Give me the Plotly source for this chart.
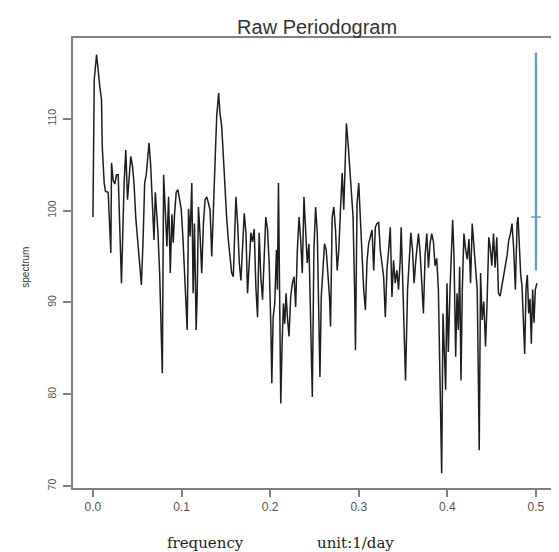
import plotly.graph_objects as go

# ---- data ----
frequency = [
    0.0000, 0.0005, 0.0015, 0.0041, 0.0060, 0.0079, 0.0097, 0.0105, 0.0127, 0.0142,
    0.0172, 0.0191, 0.0202, 0.0210, 0.0228, 0.0247, 0.0266, 0.0285, 0.0303, 0.0322,
    0.0352, 0.0371, 0.0390, 0.0404, 0.0427, 0.0446, 0.0464, 0.0483, 0.0502, 0.0528,
    0.0547, 0.0566, 0.0584, 0.0603, 0.0622, 0.0633, 0.0652, 0.0670, 0.0689, 0.0704,
    0.0719, 0.0734, 0.0753, 0.0772, 0.0783, 0.0798, 0.0817, 0.0835, 0.0854, 0.0873,
    0.0891, 0.0906, 0.0921, 0.0940, 0.0959, 0.0978, 0.0996, 0.1015, 0.1034, 0.1049,
    0.1064, 0.1079, 0.1097, 0.1116, 0.1131,
    0.1146, 0.1165, 0.1176, 0.1191, 0.1210, 0.1228, 0.1247, 0.1266, 0.1285, 0.1303,
    0.1322, 0.1341, 0.1360, 0.1378, 0.1397, 0.1408, 0.1419, 0.1434, 0.1453, 0.1472,
    0.1491, 0.1509, 0.1528, 0.1547, 0.1566, 0.1584, 0.1596, 0.1614, 0.1633, 0.1652,
    0.1670, 0.1689, 0.1708, 0.1727, 0.1745, 0.1764, 0.1783, 0.1801, 0.1820, 0.1839,
    0.1858, 0.1876, 0.1895, 0.1914, 0.1933, 0.1951, 0.1970, 0.1989, 0.2008, 0.2019,
    0.2034, 0.2052, 0.2071, 0.2082, 0.2094, 0.2105, 0.2120, 0.2135, 0.2150, 0.2165,
    0.2180, 0.2195, 0.2213, 0.2232, 0.2251, 0.2270, 0.2288, 0.2307, 0.2326, 0.2345,
    0.2363,
    0.2382, 0.2401, 0.2419, 0.2438, 0.2457, 0.2476, 0.2494, 0.2513, 0.2532, 0.2551,
    0.2562, 0.2577, 0.2596, 0.2614, 0.2633, 0.2652, 0.2670, 0.2682, 0.2700, 0.2719,
    0.2738, 0.2757, 0.2775, 0.2794, 0.2813, 0.2831, 0.2850, 0.2861, 0.2880, 0.2899,
    0.2918, 0.2936, 0.2955, 0.2963, 0.2981, 0.3000, 0.3019, 0.3037, 0.3056, 0.3075,
    0.3094, 0.3112, 0.3131, 0.3150, 0.3169, 0.3187, 0.3206, 0.3225, 0.3243, 0.3262,
    0.3281, 0.3300, 0.3318, 0.3337, 0.3356, 0.3375, 0.3393, 0.3412, 0.3431, 0.3449,
    0.3468, 0.3479, 0.3494, 0.3513, 0.3528, 0.3551, 0.3569, 0.3588, 0.3607, 0.3625,
    0.3644,
    0.3674, 0.3693, 0.3712, 0.3730, 0.3749, 0.3768, 0.3787, 0.3805, 0.3824, 0.3843,
    0.3861, 0.3880, 0.3899, 0.3918, 0.3929, 0.3936, 0.3951, 0.3966, 0.3981, 0.3996,
    0.4011, 0.4030, 0.4049, 0.4060, 0.4075, 0.4094, 0.4109, 0.4124, 0.4139, 0.4154,
    0.4169, 0.4187, 0.4206, 0.4225, 0.4244, 0.4262, 0.4281, 0.4300, 0.4318, 0.4337,
    0.4348, 0.4360, 0.4375, 0.4393, 0.4412, 0.4431, 0.4449, 0.4468, 0.4483, 0.4502,
    0.4521, 0.4539, 0.4558, 0.4577, 0.4596, 0.4614, 0.4633, 0.4655, 0.4674, 0.4693,
    0.4712, 0.4730, 0.4749, 0.4768, 0.4787, 0.4798, 0.4813, 0.4828, 0.4843, 0.4861,
    0.4873, 0.4888, 0.4903, 0.4918, 0.4933, 0.4948, 0.4963, 0.4978, 0.4993, 0.5011,
]

spectrum = [
    99.3, 105.3, 114.3, 117.0, 115.0, 113.4, 112.1, 107.0, 103.0, 102.1,
    102.0, 98.7, 95.4, 105.2, 103.3, 102.9, 103.9, 103.9, 98.3, 92.1,
    103.0, 106.6, 101.2, 103.3, 105.9, 104.9, 102.9, 99.3, 96.8, 93.9,
    91.9, 96.8, 103.0, 104.0, 106.3, 107.4, 104.9, 100.4, 96.8, 102.0,
    99.6, 97.6, 93.2, 87.0, 82.3, 103.9, 99.0, 96.1, 101.5, 93.2,
    99.6, 96.5, 99.6, 102.0, 102.3, 101.0, 100.2, 97.2, 93.2, 89.2,
    87.0, 100.2, 97.2, 103.0, 91.0,
    98.6, 87.0, 90.6, 100.4, 97.2, 93.2, 98.6, 101.2, 101.5, 100.9,
    100.1, 95.0, 99.3, 105.2, 110.3, 112.1, 112.8, 110.6, 109.2, 105.9,
    101.9, 99.3, 96.8, 95.0, 93.2, 92.8, 97.6, 101.5, 98.6, 94.3,
    92.4, 96.8, 99.7, 97.6, 91.0, 94.3, 97.6, 96.6, 98.0, 91.7,
    88.4, 97.6, 92.8, 90.3, 96.3, 99.3, 98.0, 94.3, 87.4, 81.2,
    88.4, 89.9, 95.7, 91.4, 103.0, 90.6, 79.0, 85.5, 89.9, 87.7,
    91.0, 88.4, 86.3, 90.6, 92.1, 92.8, 89.5, 95.7, 99.3, 96.8,
    93.2,
    101.5, 97.9, 94.3, 96.4, 88.4, 79.7, 95.7, 100.4, 97.6, 86.3,
    81.9, 90.6, 93.9, 96.4, 95.7, 93.5, 90.6, 87.4, 99.3, 100.4,
    97.9, 93.5, 95.7, 100.1, 104.1, 100.1, 105.9, 109.5, 107.3, 104.4,
    102.6, 99.3, 90.6, 84.8, 100.8, 103.0, 99.0, 94.6, 91.4, 89.2,
    94.6, 96.4, 97.1, 97.9, 93.5, 98.2, 98.6, 98.7, 95.7, 94.3,
    92.8, 88.4, 93.5, 95.7, 98.2, 90.6, 94.6, 92.1, 93.5, 91.4,
    94.6, 98.2, 92.8, 87.4, 81.5, 91.4, 93.9, 97.6, 95.7, 92.1,
    94.6,
    97.5, 95.4, 91.4, 88.8, 95.1, 97.5, 93.8, 96.4, 97.5, 96.6,
    94.0, 94.8, 91.4, 80.5, 77.2, 71.4, 88.8, 84.1, 80.5, 92.1,
    84.6, 91.4, 97.9, 99.0, 95.1, 84.1, 91.0, 87.0, 93.9, 81.5,
    91.4, 97.5, 95.8, 94.7, 96.9, 92.1, 98.6, 95.8, 93.0, 91.4,
    83.4, 73.9, 93.2, 88.1, 90.1, 85.2, 90.1, 97.1, 96.1, 94.0,
    97.5, 93.8, 97.1, 91.0, 90.7, 91.8, 93.0, 94.3, 95.1, 96.8,
    97.5, 98.6, 95.8, 91.4, 98.6, 99.3, 95.5, 93.0, 91.8, 87.0,
    84.4, 91.4, 93.0, 88.8, 90.4, 85.5, 91.4, 87.8, 91.4, 92.1,
]

# confidence bar (upper, centre, lower) at frequency 0.5
ci_frequency = [0.5]
ci_centre = [99.3]
ci_upper = [117.2]
ci_lower = [93.5]

x_ticks = [0.0, 0.1, 0.2, 0.3, 0.4, 0.5]
x_tick_text = ["0.0", "0.1", "0.2", "0.3", "0.4", "0.5"]
y_ticks = [70, 80, 90, 100, 110]
y_tick_text = ["70", "80", "90", "100", "110"]

fig = go.Figure()

fig.add_trace(go.Scatter(
    x=frequency, y=spectrum, mode="lines",
    line=dict(color="#1e1e1e", width=1.5),
    showlegend=False, hoverinfo="x+y",
))

fig.add_trace(go.Scatter(
    x=ci_frequency, y=ci_centre, mode="markers",
    marker=dict(symbol="line-ew", size=7, line=dict(color="#5b9bd5", width=1.5), color="#5b9bd5"),
    error_y=dict(type="data", symmetric=False,
                 array=[u - c for u, c in zip(ci_upper, ci_centre)],
                 arrayminus=[c - l for c, l in zip(ci_centre, ci_lower)],
                 color="#5b9bd5", thickness=2.2, width=0),
    showlegend=False, hoverinfo="skip",
))

axis_col = "#808080"
# the page body adds an 8px offset, so the figure is 8px smaller and margins shifted
fig.update_layout(
    width=551, height=544,
    margin=dict(l=65, r=6, t=30, b=64),
    paper_bgcolor="white", plot_bgcolor="white",
    font=dict(family="Liberation Sans, Arial, sans-serif", color="#444"),
    title=dict(text="Raw Periodogram", x=0.561, xanchor="center", y=0.965, yanchor="middle",
               font=dict(size=20, color="#333", family="Liberation Sans, Arial, sans-serif")),
    xaxis=dict(range=[-0.0225, 0.517], tickvals=x_ticks, ticktext=x_tick_text,
               showgrid=False, zeroline=False, showline=True, mirror=True,
               linecolor=axis_col, linewidth=1.5, ticks="outside", ticklen=7,
               tickwidth=1.5, tickcolor=axis_col,
               tickfont=dict(size=12, color="#555")),
    yaxis=dict(range=[69.8, 118.8], tickvals=y_ticks, ticktext=y_tick_text,
               showgrid=False, zeroline=False, showline=True, mirror=True,
               linecolor=axis_col, linewidth=1.5, ticks="outside", ticklen=8,
               tickwidth=1.5, tickcolor=axis_col, tickangle=-90,
               ticklabelstandoff=3,
               tickfont=dict(size=10.5, color="#555")),
    annotations=[
        dict(text="spectrum", xref="paper", yref="paper", x=-0.1, y=0.49,
             textangle=-90, showarrow=False, xanchor="center", yanchor="middle",
             font=dict(size=10, color="#333")),
        dict(text="frequency", xref="paper", yref="paper", x=0.277, y=-0.122,
             showarrow=False, xanchor="center", yanchor="middle",
             font=dict(size=15, color="#222", family="DejaVu Serif, Liberation Serif, serif")),
        dict(text="unit:1/day", xref="paper", yref="paper", x=0.592, y=-0.122,
             showarrow=False, xanchor="center", yanchor="middle",
             font=dict(size=15, color="#222", family="DejaVu Serif, Liberation Serif, serif")),
    ],
)

fig.write_html("out.html")
